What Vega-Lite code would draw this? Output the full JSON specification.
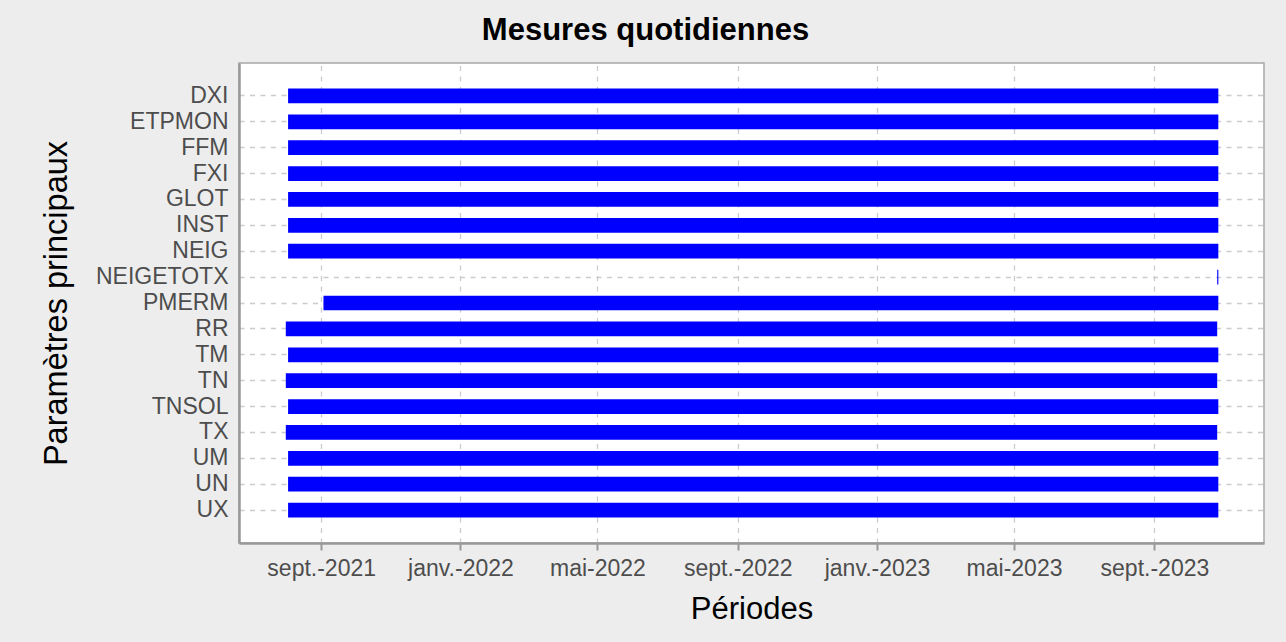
{
  "$schema": "https://vega.github.io/schema/vega-lite/v6.json",
  "autosize": "none",
  "width": 1025,
  "height": 480,
  "padding": {"left": 239, "top": 63, "right": 22, "bottom": 99},
  "background": "#EDEDED",
  "title": {
    "text": "Mesures quotidiennes",
    "font": "Liberation Sans",
    "fontSize": 31,
    "fontWeight": "bold",
    "color": "#000000",
    "anchor": "middle",
    "frame": "group",
    "dx": -106,
    "baseline": "alphabetic",
    "offset": -8
  },
  "config": {
    "view": {"fill": "#FFFFFF", "stroke": "#A8A8A8", "strokeWidth": 1.5},
    "axis": {
      "labelFont": "Liberation Sans",
      "titleFont": "Liberation Sans",
      "labelColor": "#4D4D4D",
      "titleColor": "#000000",
      "labelFontSize": 23,
      "titleFontSize": 31,
      "titleFontWeight": "normal",
      "gridColor": "#CCCCCC",
      "gridWidth": 1.3,
      "gridDash": [5, 5.5],
      "domainColor": "#999999",
      "domainWidth": 2.5,
      "tickColor": "#999999",
      "tickWidth": 2
    }
  },
  "data": {
    "values": [
      {"param": "DXI", "start": "2021-08-03", "end": "2023-10-27"},
      {"param": "ETPMON", "start": "2021-08-03", "end": "2023-10-27"},
      {"param": "FFM", "start": "2021-08-03", "end": "2023-10-27"},
      {"param": "FXI", "start": "2021-08-03", "end": "2023-10-27"},
      {"param": "GLOT", "start": "2021-08-03", "end": "2023-10-27"},
      {"param": "INST", "start": "2021-08-03", "end": "2023-10-27"},
      {"param": "NEIG", "start": "2021-08-03", "end": "2023-10-27"},
      {"param": "NEIGETOTX", "start": "2023-10-26", "end": "2023-10-27"},
      {"param": "PMERM", "start": "2021-09-03", "end": "2023-10-27"},
      {"param": "RR", "start": "2021-08-01", "end": "2023-10-26"},
      {"param": "TM", "start": "2021-08-03", "end": "2023-10-27"},
      {"param": "TN", "start": "2021-08-01", "end": "2023-10-26"},
      {"param": "TNSOL", "start": "2021-08-03", "end": "2023-10-27"},
      {"param": "TX", "start": "2021-08-01", "end": "2023-10-26"},
      {"param": "UM", "start": "2021-08-03", "end": "2023-10-27"},
      {"param": "UN", "start": "2021-08-03", "end": "2023-10-27"},
      {"param": "UX", "start": "2021-08-03", "end": "2023-10-27"}
    ]
  },
  "mark": {"type": "bar", "color": "#0000FF", "cornerRadius": 0},
  "encoding": {
    "y": {
      "field": "param",
      "type": "nominal",
      "sort": ["DXI", "ETPMON", "FFM", "FXI", "GLOT", "INST", "NEIG", "NEIGETOTX", "PMERM", "RR", "TM", "TN", "TNSOL", "TX", "UM", "UN", "UX"],
      "scale": {"paddingInner": 0.43, "paddingOuter": 0.99},
      "axis": {
        "title": "Paramètres principaux",
        "titleFontSize": 32.5,
        "ticks": false,
        "labelPadding": 11,
        "titlePadding": 22,
        "bandPosition": 0.5,
        "grid": true
      }
    },
    "x": {
      "field": "start",
      "type": "temporal",
      "scale": {"type": "utc", "domain": ["2021-06-21", "2023-12-06"], "nice": false},
      "axis": {
        "title": "Périodes",
        "tickCount": {"interval": "month", "step": 4},
        "labelExpr": "['janv.','févr.','mars','avr.','mai','juin','juil.','août','sept.','oct.','nov.','déc.'][utcmonth(datum.value)] + '-' + utcyear(datum.value)",
        "tickSize": 7,
        "labelPadding": 7,
        "titlePadding": 14,
        "grid": true
      }
    },
    "x2": {"field": "end"}
  }
}
